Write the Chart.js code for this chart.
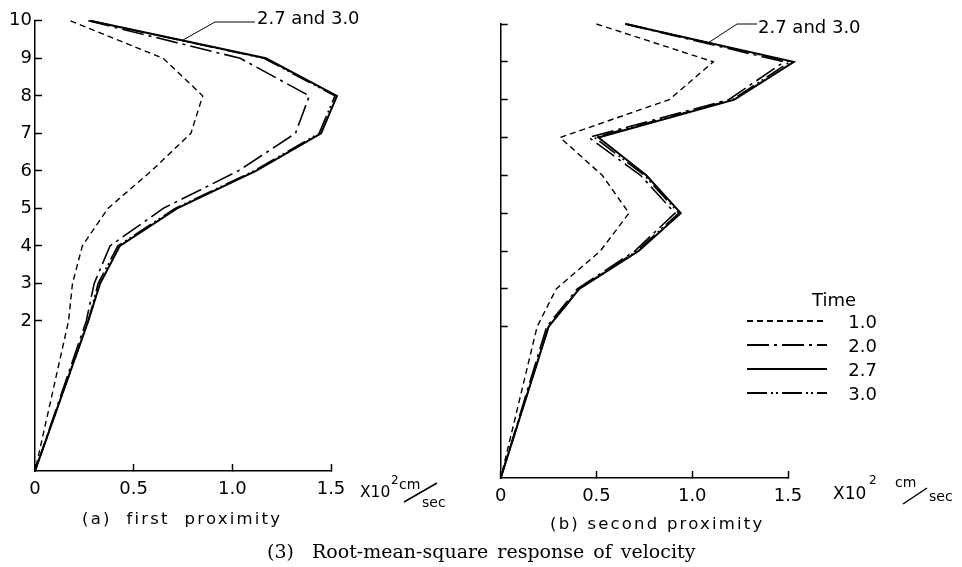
<!DOCTYPE html>
<html>
<head>
<meta charset="utf-8">
<title>Root-mean-square response of velocity</title>
<script src="https://cdn.jsdelivr.net/npm/chart.js@4.4.1/dist/chart.umd.min.js"></script>
<style>
  body { margin: 0; background: #fff; }
  #page { position: relative; width: 962px; height: 567px; overflow: hidden; color: #000;
          font-family: 'DejaVu Sans', sans-serif; }
  canvas { position: absolute; top: 0; }
  .txt { position: absolute; white-space: pre; line-height: 1; }
  svg { position: absolute; left: 0; top: 0; pointer-events: none; }
</style>
</head>
<body>
<div id="page">
  <canvas id="chartA" width="480" height="567" style="left:0px"></canvas>
  <canvas id="chartB" width="482" height="567" style="left:480px"></canvas>

  <!-- notas sobre las curvas -->
  <div class="txt" style="left:257px; top:9px; font-size:18px;">2.7 and 3.0</div>
  <div class="txt" style="left:758px; top:18px; font-size:18px;">2.7 and 3.0</div>

  <!-- unidades del eje x -->
  <div class="txt" style="left:360px; top:485px; font-size:15.5px;">X10</div>
  <div class="txt" style="left:391px; top:474px; font-size:12px;">2</div>
  <div class="txt" style="left:399px; top:477px; font-size:14px;">cm</div>
  <div class="txt" style="left:422px; top:495px; font-size:14px;">sec</div>

  <div class="txt" style="left:833px; top:485px; font-size:17px;">X10</div>
  <div class="txt" style="left:869px; top:474px; font-size:12px;">2</div>
  <div class="txt" style="left:895px; top:475px; font-size:14px;">cm</div>
  <div class="txt" style="left:929px; top:489px; font-size:14px;">sec</div>

  <!-- subtitulos y titulo -->
  <div class="txt" style="left:82px; top:511px; font-size:16.5px; letter-spacing:2.2px;">(a)  first  proximity</div>
  <div class="txt" style="left:550px; top:516px; font-size:16.5px; letter-spacing:2.2px;">(b) second proximity</div>
  <div class="txt" style="left:267px; top:542px; font-size:19px; word-spacing:3px; font-family:'DejaVu Serif', serif;">(3)  Root-mean-square response of velocity</div>

  <!-- leyenda -->
  <div class="txt" style="left:812px; top:291px; font-size:18px;">Time</div>
  <div id="legend"></div>

  <svg id="marks" width="962" height="567">
    <polyline points="183,40 215,22 255,22" fill="none" stroke="#000" stroke-width="1"/>
    <polyline points="708,43 737,24 757,24" fill="none" stroke="#000" stroke-width="1"/>
    <line x1="404" y1="502" x2="437" y2="483" stroke="#000" stroke-width="1.5"/>
    <line x1="903" y1="504" x2="927" y2="488" stroke="#000" stroke-width="1.5"/>
  </svg>
</div>

<script>
// niveles (pisos); el suelo se dibuja 4 alturas por debajo del piso 2, como en la figura
const floors = [10, 9, 8, 7, 6, 5, 4, 3, 2, -2];
const floorTicks = [2, 3, 4, 5, 6, 7, 8, 9, 10];
const velTicks = [0, 0.5, 1.0, 1.5];
const velTickLabels = ['0', '0.5', '1.0', '1.5'];
const timeLabels = ['1.0', '2.0', '2.7', '3.0'];

// (a) first proximity  (x10^2 cm/sec)
const firstT10 = [0.18, 0.65, 0.85, 0.79, 0.59, 0.37, 0.24, 0.19, 0.17, 0];
const firstT20 = [0.27, 1.04, 1.39, 1.32, 1.03, 0.65, 0.38, 0.30, 0.26, 0];
const firstT27 = [0.28, 1.17, 1.53, 1.45, 1.12, 0.72, 0.43, 0.33, 0.27, 0];
const firstT30 = [0.28, 1.16, 1.52, 1.44, 1.11, 0.71, 0.42, 0.32, 0.27, 0];

// (b) second proximity
const secondT10 = [0.50, 1.11, 0.88, 0.31, 0.53, 0.67, 0.52, 0.29, 0.19, 0];
const secondT20 = [0.65, 1.48, 1.19, 0.46, 0.73, 0.91, 0.70, 0.40, 0.24, 0];
const secondT27 = [0.65, 1.53, 1.22, 0.51, 0.76, 0.94, 0.72, 0.41, 0.25, 0];
const secondT30 = [0.66, 1.51, 1.21, 0.49, 0.75, 0.93, 0.71, 0.41, 0.25, 0];

// estilo de linea para cada tiempo
const lineStyles = [
    { dash: [6, 4], width: 1.4 },
    { dash: [22, 5, 3, 5], width: 1.6 },
    { dash: [], width: 2 },
    { dash: [20, 4, 2, 3, 2, 4], width: 1.6 }
];

Chart.defaults.font.family = "'DejaVu Sans', sans-serif";
Chart.defaults.color = '#000';

function crearGrafico(id, series, yLabels, pad) {
    return new Chart(document.getElementById(id), {
        type: 'line',
        data: {
            datasets: series.map((vals, i) => ({
                label: timeLabels[i],
                data: vals.map((v, k) => ({ x: v, y: floors[k] })),
                borderColor: '#000',
                borderWidth: lineStyles[i].width,
                borderDash: lineStyles[i].dash,
                pointRadius: 0,
                tension: 0,
                fill: false,
                clip: false
            }))
        },
        options: {
            responsive: false,
            animation: false,
            layout: { padding: pad },
            plugins: { legend: { display: false }, tooltip: { enabled: false } },
            scales: {
                x: {
                    type: 'linear', min: 0, max: 1.5,
                    afterBuildTicks: s => { s.ticks = velTicks.map(v => ({ value: v })); },
                    afterFit: s => { s.height = 40; },
                    border: { color: '#000', width: 1.5 },
                    grid: { drawOnChartArea: false, tickLength: -7, tickColor: '#000', tickWidth: 1.5 },
                    ticks: {
                        padding: 15, autoSkip: false, maxRotation: 0,
                        font: { size: 18 },
                        callback: (v, i) => velTickLabels[i]
                    }
                },
                y: {
                    type: 'linear', min: -2, max: 10,
                    afterBuildTicks: s => { s.ticks = floorTicks.map(v => ({ value: v })); },
                    afterFit: s => { s.width = yLabels ? 35 : 0; },
                    border: { color: '#000', width: 1.5 },
                    grid: { drawOnChartArea: false, tickLength: -7, tickColor: '#000', tickWidth: 1.5 },
                    ticks: {
                        display: yLabels, padding: 10, autoSkip: false,
                        font: { size: 18 },
                        callback: (v, i) => String(floorTicks[i])
                    }
                }
            }
        }
    });
}

crearGrafico('chartA', [firstT10, firstT20, firstT27, firstT30], true,
    { left: 0, top: 16, right: 149, bottom: 56 });
crearGrafico('chartB', [secondT10, secondT20, secondT27, secondT30], false,
    { left: 10, top: 24, right: 174, bottom: 49 });

// leyenda: muestra de linea + etiqueta de tiempo
const svg = document.getElementById('marks');
const legend = document.getElementById('legend');
const filas = [321, 345, 369, 393];
timeLabels.forEach((t, i) => {
    const ln = document.createElementNS('http://www.w3.org/2000/svg', 'line');
    ln.setAttribute('x1', 747); ln.setAttribute('x2', 827);
    ln.setAttribute('y1', filas[i]); ln.setAttribute('y2', filas[i]);
    ln.setAttribute('stroke', '#000');
    ln.setAttribute('stroke-width', 2);
    if (lineStyles[i].dash.length) ln.setAttribute('stroke-dasharray', lineStyles[i].dash.join(' '));
    svg.appendChild(ln);

    const d = document.createElement('div');
    d.className = 'txt';
    d.style.cssText = 'left:840px; width:37px; text-align:right; font-size:18px; top:' + (filas[i] - 8) + 'px;';
    d.textContent = t;
    legend.appendChild(d);
});
</script>
</body>
</html>
